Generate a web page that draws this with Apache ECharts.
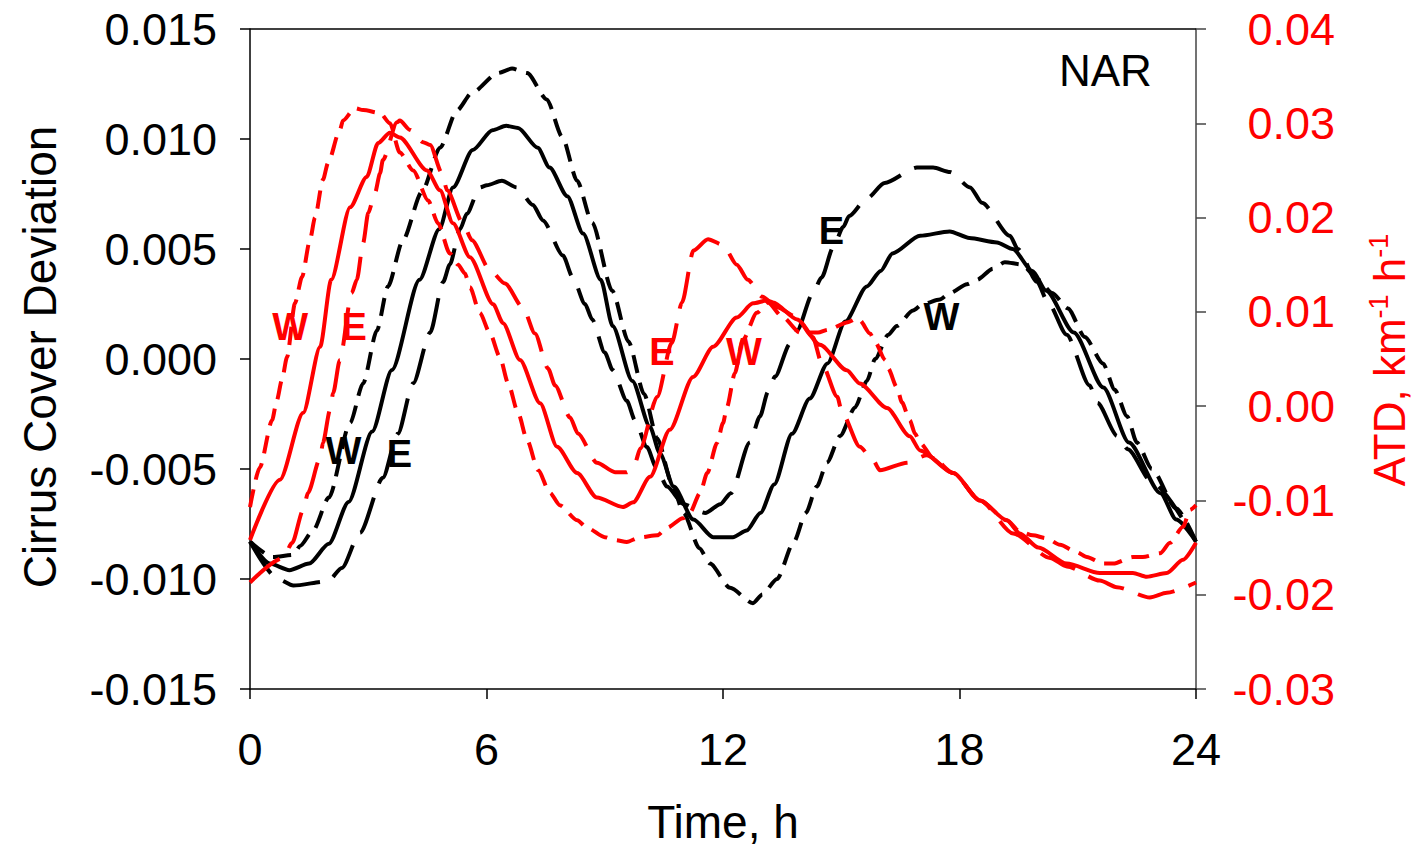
<!DOCTYPE html>
<html><head><meta charset="utf-8">
<script src="https://cdn.jsdelivr.net/npm/echarts@6/dist/echarts.min.js"></script>
<style>html,body{margin:0;padding:0;background:#fff}#c{width:1412px;height:848px}</style>
</head><body><div id="c"></div>
<script>
const FONT = '"Liberation Sans", Arial, Helvetica, sans-serif';

// x axis: time, h
const xTicks = [0, 6, 12, 18, 24];
// Left axis (Cirrus Cover Deviation) range / step
const leftRange = [-0.015, 0.015, 0.005];
// Right axis (ATD) range / step
const rightRange = [-0.03, 0.04, 0.01];

// Cirrus cover deviation (left axis), black
const cirrusAll = [[0,-0.0083],[0.5,-0.0093],[1.0,-0.0096],[1.5,-0.0093],[2.0,-0.0084],[2.5,-0.0065],[3.1,-0.0033],[3.6,-0.0005],[4.3,0.0036],[4.8,0.0059],[5.15,0.0078],[5.65,0.0095],[6.15,0.0104],[6.5,0.0106],[6.8,0.0105],[7.3,0.0096],[7.6,0.0087],[8.05,0.0074],[8.45,0.0057],[8.9,0.0036],[9.2,0.0015],[9.7,-0.0010],[10.15,-0.0031],[10.4,-0.0043],[10.75,-0.0058],[11.25,-0.0073],[11.75,-0.0081],[12.25,-0.0081],[12.6,-0.0078],[12.95,-0.0070],[13.3,-0.0057],[13.75,-0.0034],[14.2,-0.0018],[14.65,-0.0002],[15.1,0.0017],[15.65,0.0033],[16.0,0.0040],[16.3,0.0048],[17.0,0.0056],[17.75,0.0058],[18.25,0.0055],[18.95,0.0053],[19.35,0.0050],[19.85,0.0040],[20.2,0.0031],[20.9,0.0012],[21.65,-0.0013],[22.3,-0.0038],[23.1,-0.0061],[23.5,-0.0073],[24,-0.0083]];
const cirrusW = [[0,-0.0083],[0.58,-0.0090],[1.1,-0.0089],[1.27,-0.0085],[1.6,-0.0078],[2.0,-0.0063],[2.54,-0.0029],[2.87,-0.0011],[3.22,0.0013],[3.5,0.0033],[3.88,0.0054],[4.36,0.0076],[4.82,0.0096],[5.25,0.0113],[5.63,0.0121],[6.29,0.0130],[6.65,0.0132],[7.03,0.0130],[7.53,0.0118],[7.92,0.0101],[8.3,0.0081],[8.68,0.0062],[9.19,0.0031],[9.6,0.0008],[10.0,-0.0016],[10.33,-0.0036],[10.73,-0.0058],[11.0,-0.0070],[11.4,-0.0086],[11.67,-0.0093],[12.18,-0.0104],[12.76,-0.0111],[13.0,-0.0107],[13.37,-0.0100],[13.8,-0.0083],[14.1,-0.0070],[14.38,-0.0058],[14.64,-0.0047],[14.97,-0.0035],[15.35,-0.0022],[15.65,-0.0010],[15.86,0.0000],[16.19,0.0011],[16.41,0.0015],[16.82,0.0022],[17.07,0.0025],[17.5,0.0027],[17.76,0.0030],[18.19,0.0034],[18.44,0.0036],[18.85,0.0041],[19.15,0.0044],[19.58,0.0043],[20.0,0.0036],[20.35,0.0030],[20.75,0.0023],[21.18,0.0010],[21.64,-0.0002],[21.94,-0.0014],[22.25,-0.0026],[22.5,-0.0038],[22.88,-0.0050],[23.5,-0.0068],[24,-0.0083]];
const cirrusE = [[0,-0.0083],[0.71,-0.0100],[1.1,-0.0103],[1.98,-0.0101],[2.33,-0.0095],[2.79,-0.0079],[3.37,-0.0054],[3.75,-0.0034],[4.14,-0.0011],[4.57,0.0012],[4.9,0.0035],[5.07,0.0043],[5.33,0.0059],[5.5,0.0066],[5.83,0.0078],[6.01,0.0079],[6.39,0.0081],[6.77,0.0078],[7.18,0.0070],[7.43,0.0063],[7.94,0.0047],[8.19,0.0037],[8.5,0.0025],[8.68,0.0018],[9.0,0.0003],[9.2,-0.0005],[9.56,-0.0019],[9.77,-0.0028],[10.07,-0.0040],[10.3,-0.0049],[10.58,-0.0058],[11.0,-0.0066],[11.55,-0.0070],[11.93,-0.0066],[12.2,-0.0061],[12.68,-0.0038],[12.94,-0.0026],[13.14,-0.0015],[13.32,-0.0008],[13.7,0.0007],[13.88,0.0013],[14.28,0.0030],[14.5,0.0037],[14.8,0.0051],[15.05,0.0060],[15.2,0.0065],[15.65,0.0073],[16.1,0.0080],[16.92,0.0087],[17.33,0.0087],[17.76,0.0085],[18.27,0.0078],[18.57,0.0071],[19.28,0.0056],[19.48,0.0050],[19.97,0.0035],[20.24,0.0026],[20.72,0.0011],[21.3,-0.0012],[21.5,-0.0020],[22.0,-0.0035],[22.27,-0.0041],[22.88,-0.0056],[24,-0.0083]];

// ATD, km^-1 h^-1 (right axis), red
const atdAll = [[0,-0.0142],[0.76,-0.0078],[1.35,-0.0007],[1.78,0.0063],[2.06,0.0134],[2.54,0.0211],[2.96,0.0243],[3.25,0.0279],[3.55,0.0290],[3.8,0.0285],[4.49,0.0250],[4.82,0.0229],[5.15,0.0194],[5.58,0.0158],[6.17,0.0108],[6.42,0.0088],[6.85,0.0049],[7.36,0.0003],[7.79,-0.0043],[8.3,-0.0071],[8.8,-0.0097],[9.46,-0.0107],[9.72,-0.0102],[10.15,-0.0075],[10.65,-0.0025],[11.24,0.0031],[11.75,0.0063],[12.35,0.0094],[12.76,0.0109],[13.1,0.0112],[13.27,0.0110],[13.88,0.0092],[14.46,0.0065],[15.14,0.0038],[15.47,0.0024],[16.16,-0.0002],[16.74,-0.0032],[17.0,-0.0047],[17.84,-0.0071],[18.52,-0.0100],[19.2,-0.0121],[19.53,-0.0135],[20.0,-0.0150],[20.72,-0.0167],[21.56,-0.0177],[22.4,-0.0177],[22.75,-0.0181],[23.26,-0.0177],[23.67,-0.0163],[24,-0.0145]];
const atdW = [[0,-0.0107],[0.25,-0.0065],[0.56,-0.0015],[0.68,0.0006],[0.81,0.0028],[0.94,0.0052],[1.14,0.0109],[1.32,0.0137],[1.52,0.0176],[1.65,0.0200],[1.85,0.0240],[1.98,0.0258],[2.28,0.0293],[2.36,0.0303],[2.66,0.0316],[2.87,0.0314],[3.3,0.0311],[3.55,0.0300],[3.8,0.0269],[4.14,0.0250],[4.52,0.0218],[4.77,0.0194],[5.07,0.0162],[5.28,0.0150],[5.45,0.0141],[5.58,0.0126],[5.83,0.0099],[6.09,0.0077],[6.34,0.0052],[6.55,0.0024],[6.8,-0.0007],[7.03,-0.0036],[7.31,-0.0068],[7.61,-0.0092],[7.86,-0.0105],[8.3,-0.0121],[8.55,-0.0129],[9.0,-0.0139],[9.26,-0.0142],[9.56,-0.0144],[9.9,-0.0139],[10.33,-0.0137],[10.58,-0.0129],[10.98,-0.0119],[11.16,-0.0113],[11.42,-0.0092],[11.6,-0.0071],[11.85,-0.0039],[12.0,-0.0018],[12.1,-0.0001],[12.3,0.0035],[12.5,0.0070],[12.86,0.0099],[13.14,0.0110],[13.5,0.0095],[13.95,0.0078],[14.41,0.0078],[14.66,0.0081],[15.17,0.0089],[15.4,0.0093],[15.47,0.0091],[15.73,0.0077],[15.86,0.0068],[16.11,0.0049],[16.19,0.0040],[16.41,0.0020],[16.54,0.0004],[16.74,-0.0015],[16.87,-0.0029],[17.0,-0.0039],[17.33,-0.0055],[17.84,-0.0071],[18.52,-0.0100],[19.2,-0.0121],[19.53,-0.0133],[19.86,-0.0137],[20.2,-0.0140],[20.55,-0.0147],[20.98,-0.0155],[21.23,-0.0160],[21.64,-0.0167],[21.9,-0.0167],[22.4,-0.0160],[22.65,-0.0160],[23.09,-0.0156],[23.34,-0.0145],[23.67,-0.0128],[23.85,-0.0110],[24,-0.0105]];
const atdE = [[0,-0.0187],[0.84,-0.0161],[1.07,-0.0145],[1.35,-0.0110],[1.47,-0.0092],[1.78,-0.0055],[1.85,-0.0039],[2.03,-0.0004],[2.11,0.0014],[2.28,0.0049],[2.58,0.0120],[2.71,0.0134],[2.87,0.0173],[3.0,0.0205],[3.17,0.0226],[3.3,0.0247],[3.37,0.0261],[3.73,0.0301],[3.8,0.0303],[4.06,0.0293],[4.39,0.0280],[4.57,0.0277],[4.87,0.0247],[5.0,0.0229],[5.4,0.0194],[5.63,0.0176],[6.09,0.0144],[6.47,0.0130],[6.93,0.0104],[7.23,0.0077],[7.56,0.0040],[7.74,0.0022],[8.12,-0.0012],[8.32,-0.0029],[8.8,-0.0060],[9.26,-0.0070],[9.56,-0.0070],[9.77,-0.0060],[9.9,-0.0045],[10.33,0.0010],[10.7,0.0067],[10.96,0.0110],[11.25,0.0165],[11.62,0.0177],[12.0,0.0171],[12.35,0.0150],[12.63,0.0134],[13.0,0.0116],[13.37,0.0105],[13.85,0.0095],[14.28,0.0073],[14.5,0.0046],[14.9,0.0010],[15.02,-0.0007],[15.47,-0.0043],[15.8,-0.0057],[15.98,-0.0068],[16.67,-0.0060],[17.17,-0.0052],[17.84,-0.0071],[18.52,-0.0100],[19.36,-0.0135],[20.3,-0.0161],[20.72,-0.0170],[21.56,-0.0185],[21.99,-0.0192],[22.83,-0.0203],[23.26,-0.0198],[24,-0.0187]];

// Curve annotations: [text, time, value, axis(0 left / 1 right)]
const curveLabels = [
  ['W', 2.37, -0.0042, 0], ['E', 3.79, -0.0043, 0],
  ['E', 14.75, 0.0058, 0], ['W', 17.54, 0.0019, 0],
  ['W', 1.02, 0.0084, 1], ['E', 2.64, 0.0084, 1],
  ['E', 10.45, 0.0057, 1], ['W', 12.53, 0.0057, 1]
];
const regionLabel = ['NAR', 21.7, 0.0131];

const RED = '#ff0000';
const SHORT = [18, 10];
const LONG = [38, 15];

function line(name, data, color, dash, yIdx) {
  return {
    type: 'line', name: name, data: data, yAxisIndex: yIdx,
    symbol: 'none', smooth: 0.25, smoothMonotone: 'x', silent: true,
    lineStyle: { color: color, width: 4, type: dash, cap: 'butt', join: 'round' }
  };
}

const chart = echarts.init(document.getElementById('c'), null, { renderer: 'svg' });
const fmt = (d) => (v) => (Math.abs(v) < 1e-12 ? 0 : v).toFixed(d);

chart.setOption({
  animation: false,
  backgroundColor: '#fff',
  grid: { left: 250, right: 216, top: 29, bottom: 159, containLabel: false },
  xAxis: [{
    type: 'value', min: xTicks[0], max: xTicks[xTicks.length - 1], interval: 6,
    axisLine: { show: true, onZero: false, lineStyle: { color: '#000', width: 1.5 } },
    axisTick: { show: true, length: 10, lineStyle: { color: '#000', width: 1.5 } },
    axisLabel: { fontSize: 45, color: '#000', fontFamily: FONT, margin: 38 },
    splitLine: { show: false }
  }],
  yAxis: [{
    type: 'value', position: 'left', min: leftRange[0], max: leftRange[1], interval: leftRange[2],
    axisLine: { show: true, onZero: false, lineStyle: { color: '#000', width: 1.5 } },
    axisTick: { show: true, length: 10, lineStyle: { color: '#000', width: 1.5 } },
    axisLabel: { fontSize: 45, color: '#000', fontFamily: FONT, margin: 33, formatter: fmt(3) },
    splitLine: { show: false }
  }, {
    type: 'value', position: 'right', min: rightRange[0], max: rightRange[1], interval: rightRange[2],
    axisLine: { show: true, onZero: false, lineStyle: { color: '#444', width: 1.5 } },
    axisTick: { show: true, length: 10, lineStyle: { color: '#444', width: 1.5 } },
    axisLabel: { fontSize: 45, color: RED, fontFamily: FONT, margin: 139, align: 'right', formatter: fmt(2) },
    splitLine: { show: false }
  }],
  series: [
    line('Cirrus mean', cirrusAll, '#000', 'solid', 0),
    line('Cirrus W', cirrusW, '#000', SHORT, 0),
    line('Cirrus E', cirrusE, '#000', LONG, 0),
    line('ATD mean', atdAll, RED, 'solid', 1),
    line('ATD W', atdW, RED, SHORT, 1),
    line('ATD E', atdE, RED, LONG, 1)
  ]
});

const graphics = [];
// top frame line of the plot area
const tl = chart.convertToPixel({ xAxisIndex: 0, yAxisIndex: 0 }, [xTicks[0], leftRange[1]]);
const tr = chart.convertToPixel({ xAxisIndex: 0, yAxisIndex: 0 }, [xTicks[xTicks.length - 1], leftRange[1]]);
graphics.push({ type: 'line', z: 50, shape: { x1: tl[0], y1: tl[1], x2: tr[0], y2: tr[1] },
  style: { stroke: '#000', lineWidth: 1.5 } });
curveLabels.forEach(function (l) {
  const p = chart.convertToPixel({ xAxisIndex: 0, yAxisIndex: l[3] }, [l[1], l[2]]);
  graphics.push({
    type: 'text', x: p[0], y: p[1], z: 100,
    style: { text: l[0], fill: l[3] ? RED : '#000', font: 'bold 38px ' + FONT, align: 'center', verticalAlign: 'middle' }
  });
});
const np = chart.convertToPixel({ xAxisIndex: 0, yAxisIndex: 0 }, [regionLabel[1], regionLabel[2]]);
graphics.push({ type: 'text', x: np[0], y: np[1], z: 100,
  style: { text: regionLabel[0], fill: '#000', font: '44px ' + FONT, align: 'center', verticalAlign: 'middle' } });
// axis titles
graphics.push({ type: 'text', x: 723, y: 822, z: 100,
  style: { text: 'Time, h', fill: '#000', font: '46px ' + FONT, align: 'center', verticalAlign: 'middle' } });
graphics.push({ type: 'text', x: 40, y: 357, rotation: Math.PI / 2, z: 100,
  style: { text: 'Cirrus Cover Deviation', fill: '#000', font: '46px ' + FONT, align: 'center', verticalAlign: 'middle' } });
graphics.push({ type: 'text', x: 1388, y: 360, rotation: Math.PI / 2, z: 100,
  style: {
    text: '{a|ATD, km}{s|-1}{a| h}{s|-1}', align: 'center', verticalAlign: 'middle',
    rich: {
      a: { fontSize: 44, fontFamily: FONT, fill: RED, lineHeight: 46, verticalAlign: 'bottom' },
      s: { fontSize: 27, fontFamily: FONT, fill: RED, lineHeight: 28, verticalAlign: 'top' }
    }
  } });
chart.setOption({ graphic: graphics });
</script>
</body></html>
